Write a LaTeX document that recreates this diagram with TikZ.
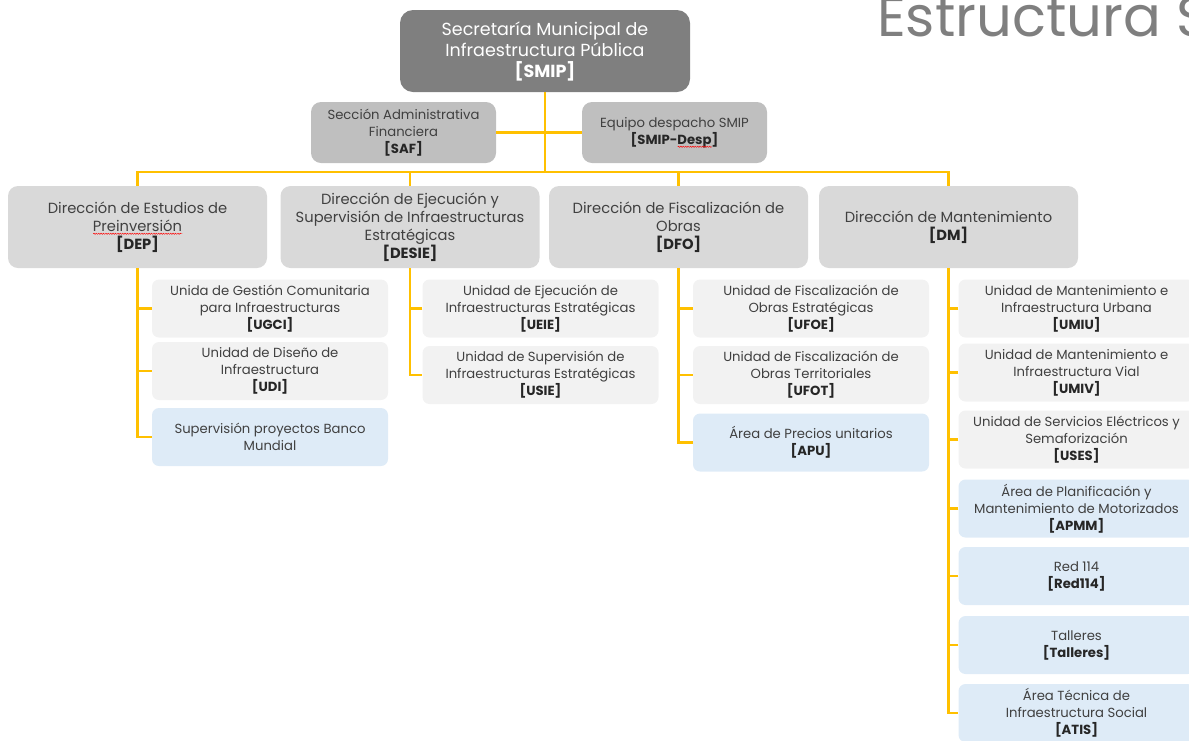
\documentclass[tikz,border=0pt]{standalone}
\usepackage{fontspec}
\setmainfont{Poppins}
\usetikzlibrary{decorations.pathmorphing}
\definecolor{gold}{HTML}{FFC000}
\definecolor{smipfill}{HTML}{7F7F7F}
\definecolor{saffill}{HTML}{BFBFBF}
\definecolor{dirfill}{HTML}{D9D9D9}
\definecolor{unitfill}{HTML}{F2F2F2}
\definecolor{areafill}{HTML}{DEEBF7}
\definecolor{txt}{HTML}{404040}
\definecolor{codecol}{HTML}{262626}
\definecolor{titlegray}{HTML}{7F7F7F}
\newcommand{\cod}[1]{\textcolor{codecol}{\bfseries #1}}
\newsavebox\spellbox
\newcommand{\spell}[1]{\sbox\spellbox{#1}\edef\spellw{\the\wd\spellbox}%
  \makebox[\wd\spellbox][l]{\rlap{\usebox\spellbox}\raisebox{-2.5pt}[0pt][0pt]{%
  \tikz[x=1pt,y=1pt,baseline=0pt]\draw[red,line width=0.45pt,fill=none,rounded corners=0pt,
    decorate,decoration={snake,amplitude=0.6pt,segment length=2.4pt}] (0,0) -- (\spellw,0);}}}
\tikzset{
  orgbase/.style={align=center, inner sep=2pt, text=txt},
  smipbox/.style={orgbase, rounded corners=13pt, fill=smipfill, text=white,
    minimum width=290pt, minimum height=82pt, font=\fontsize{17.5}{21}\selectfont},
  staffbox/.style={orgbase, rounded corners=10pt, fill=saffill,
    minimum width=185pt, minimum height=61pt, font=\fontsize{13.2}{17}\selectfont},
  dirbox/.style={orgbase, rounded corners=10pt, fill=dirfill,
    minimum width=259pt, minimum height=82pt, font=\fontsize{14.7}{18}\selectfont},
  unitbox/.style={orgbase, rounded corners=7pt, fill=unitfill,
    minimum width=236pt, minimum height=58pt, font=\fontsize{13.2}{17}\selectfont},
  areabox/.style={unitbox, fill=areafill},
  link/.style={draw=gold, line width=2.3pt},
}
\begin{document}
\begin{tikzpicture}[x=1pt, y=-1pt]
\useasboundingbox (0,0) rectangle (1189,740);
\clip (0,0) rectangle (1189,740);

% title
\node[anchor=base west, inner sep=0, text=titlegray,
      font=\fontsize{56}{56}\selectfont] (title) at (877,36) {Estructura S};

% top level
\node[smipbox] (smip) at (545,51) {Secretaría Municipal de\\Infraestructura Pública\\\textbf{[SMIP]}};
\node[staffbox] (saf) at (403.5,132.5) {Sección Administrativa\\Financiera\\\cod{[SAF]}};
\node[staffbox] (desp) at (674.5,132.5) {Equipo despacho SMIP\\\cod{[SMIP-\spell{Desp}]}};

% directions
\node[dirbox] (dep) at (137.5,227) {Dirección de Estudios de\\\spell{Preinversión}\\\cod{[DEP]}};
\node[dirbox] (desie) at (410,227) {Dirección de Ejecución y\\Supervisión de Infraestructuras\\Estratégicas\\\cod{[DESIE]}};
\node[dirbox] (dfo) at (678.5,227) {Dirección de Fiscalización de\\Obras\\\cod{[DFO]}};
\node[dirbox] (dm) at (948.5,227) {Dirección de Mantenimiento\\\cod{[DM]}};

% DEP units
\node[unitbox] (ugci) at (270,308.5) {Unida de Gestión Comunitaria\\para Infraestructuras\\\cod{[UGCI]}};
\node[unitbox] (udi) at (270,371) {Unidad de Diseño de\\Infraestructura\\\cod{[UDI]}};
\node[areabox] (spbm) at (270,437) {Supervisión proyectos Banco\\Mundial};

% DESIE units
\node[unitbox] (ueie) at (540.5,308.5) {Unidad de Ejecución de\\Infraestructuras Estratégicas\\\cod{[UEIE]}};
\node[unitbox] (usie) at (540.5,375) {Unidad de Supervisión de\\Infraestructuras Estratégicas\\\cod{[USIE]}};

% DFO units
\node[unitbox] (ufoe) at (811,308.5) {Unidad de Fiscalización de\\Obras Estratégicas\\\cod{[UFOE]}};
\node[unitbox] (ufot) at (811,375) {Unidad de Fiscalización de\\Obras Territoriales\\\cod{[UFOT]}};
\node[areabox] (apu) at (811,442.5) {Área de Precios unitarios\\\cod{[APU]}};

% DM units
\node[unitbox] (umiu) at (1076.5,308.5) {Unidad de Mantenimiento e\\Infraestructura Urbana\\\cod{[UMIU]}};
\node[unitbox] (umiv) at (1076.5,372.5) {Unidad de Mantenimiento e\\Infraestructura Vial\\\cod{[UMIV]}};
\node[unitbox] (uses) at (1076.5,439.5) {Unidad de Servicios Eléctricos y\\Semaforización\\\cod{[USES]}};
\node[areabox] (apmm) at (1076.5,508.5) {Área de Planificación y\\Mantenimiento de Motorizados\\\cod{[APMM]}};
\node[areabox] (red) at (1076.5,576) {Red 114\\\cod{[Red114]}};
\node[areabox] (tall) at (1076.5,645) {Talleres\\\cod{[Talleres]}};
\node[areabox] (atis) at (1076.5,713) {Área Técnica de\\Infraestructura Social\\\cod{[ATIS]}};

% connectors
\coordinate (bus) at (545,172);
\draw[link] (smip.south) -- (bus);
\draw[link] (saf.east) -- (desp.west);
\draw[link] (dep.north) |- (bus) -| (dm.north);
\draw[link] (desie.north) -- (desie.north |- bus);
\draw[link] (dfo.north) -- (dfo.north |- bus);

\draw[link] (dep.south) |- (spbm.west);
\draw[link] (ugci.west) -- (ugci.west -| dep.south);
\draw[link] (udi.west) -- (udi.west -| dep.south);

\draw[link] (desie.south) |- (usie.west);
\draw[link] (ueie.west) -- (ueie.west -| desie.south);

\draw[link] (dfo.south) |- (apu.west);
\draw[link] (ufoe.west) -- (ufoe.west -| dfo.south);
\draw[link] (ufot.west) -- (ufot.west -| dfo.south);

\draw[link] (dm.south) |- (atis.west);
\draw[link] (umiu.west) -- (umiu.west -| dm.south);
\draw[link] (umiv.west) -- (umiv.west -| dm.south);
\draw[link] (uses.west) -- (uses.west -| dm.south);
\draw[link] (apmm.west) -- (apmm.west -| dm.south);
\draw[link] (red.west) -- (red.west -| dm.south);
\draw[link] (tall.west) -- (tall.west -| dm.south);
\end{tikzpicture}
\end{document}
